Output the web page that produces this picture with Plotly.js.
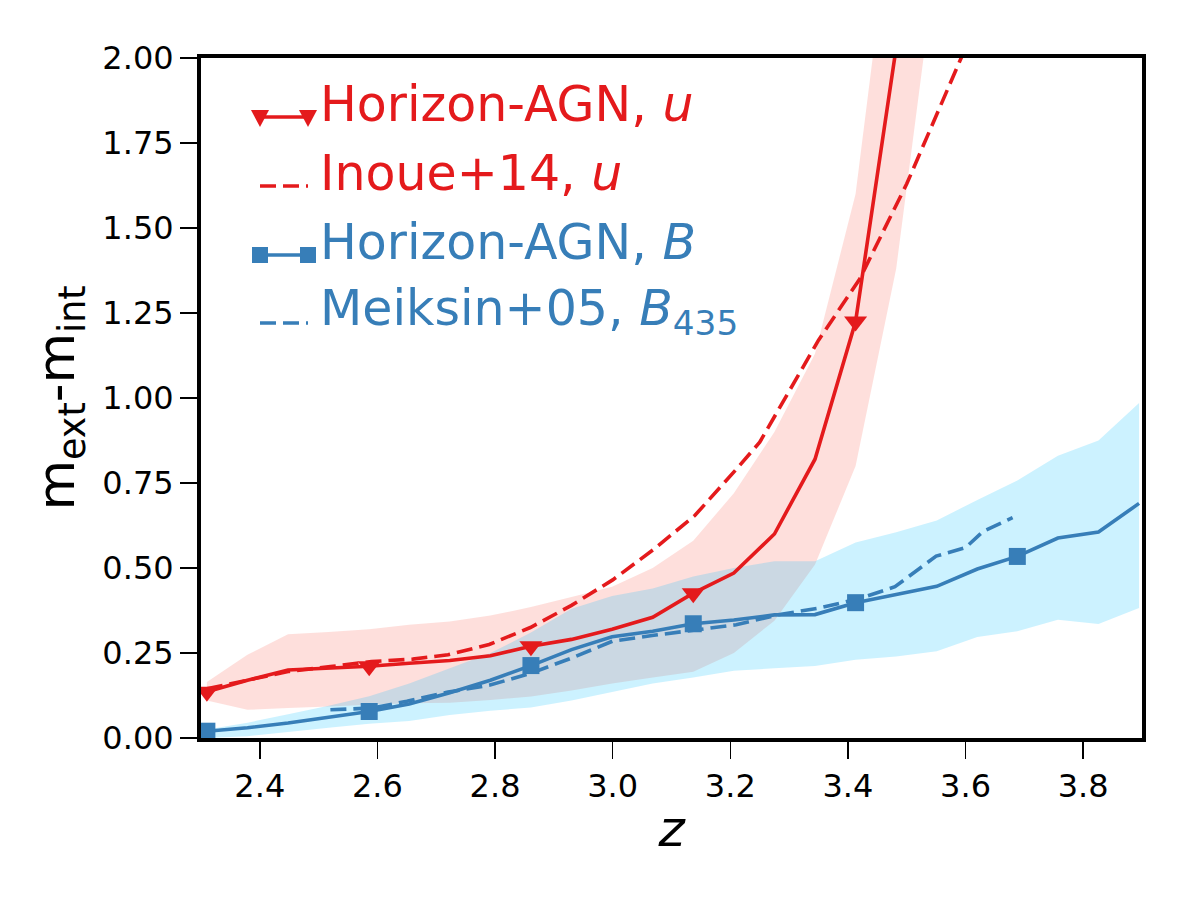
<!DOCTYPE html>
<html>
<head>
<meta charset="utf-8">
<script src="https://cdn.plot.ly/plotly-3.0.1.min.js"></script>
<style>
  html, body { margin: 0; padding: 0; background: #ffffff; }
  #chart { width: 1200px; height: 900px; }
</style>
</head>
<body>
<div id="chart"></div>
<script>
// Redshift grid of the Horizon-AGN measurements
const zGrid = [2.310, 2.379, 2.448, 2.517, 2.586, 2.654, 2.723, 2.792, 2.861, 2.930, 2.999, 3.068,
               3.137, 3.206, 3.275, 3.344, 3.413, 3.482, 3.551, 3.620, 3.688, 3.757, 3.826, 3.895];

// Horizon-AGN, u band: median and spread
const hagnU      = [0.136, 0.170, 0.200, 0.205, 0.211, 0.220, 0.228, 0.242, 0.270, 0.290, 0.320, 0.355,
                    0.426, 0.485, 0.600, 0.820, 1.225, 2.030];
const hagnUUpper = [0.165, 0.245, 0.305, 0.312, 0.320, 0.333, 0.343, 0.360, 0.385, 0.415, 0.445, 0.500,
                    0.580, 0.720, 0.900, 1.130, 1.600, 2.550, 4.000];
const hagnULower = [0.110, 0.083, 0.088, 0.093, 0.098, 0.102, 0.104, 0.112, 0.122, 0.140, 0.160, 0.178,
                    0.195, 0.250, 0.345, 0.510, 0.800, 1.380, 2.300];

// Horizon-AGN, B band: median and spread
const hagnB      = [0.020, 0.030, 0.044, 0.060, 0.078, 0.100, 0.133, 0.170, 0.213, 0.260, 0.298, 0.314,
                    0.336, 0.347, 0.362, 0.363, 0.398, 0.422, 0.446, 0.497, 0.534, 0.588, 0.606, 0.690];
const hagnBUpper = [0.025, 0.045, 0.070, 0.095, 0.123, 0.160, 0.205, 0.250, 0.310, 0.380, 0.418, 0.440,
                    0.475, 0.500, 0.520, 0.520, 0.575, 0.605, 0.640, 0.700, 0.757, 0.830, 0.875, 0.985];
const hagnBLower = [0.000, 0.005, 0.018, 0.030, 0.042, 0.050, 0.068, 0.080, 0.090, 0.110, 0.135, 0.160,
                    0.178, 0.198, 0.205, 0.212, 0.230, 0.240, 0.255, 0.297, 0.314, 0.348, 0.335, 0.382];

// Inoue+14 model, u band
const inoueZ = [2.31, 2.38, 2.45, 2.52, 2.59, 2.66, 2.72, 2.79, 2.86, 2.93, 3.00, 3.07, 3.14, 3.21,
                3.25, 3.35, 3.42, 3.50, 3.55, 3.60];
const inoueU = [0.145, 0.170, 0.196, 0.210, 0.225, 0.232, 0.245, 0.275, 0.325, 0.390, 0.465, 0.555,
                0.655, 0.790, 0.870, 1.170, 1.350, 1.630, 1.830, 2.030];

// Meiksin+05 model, B435 band
const meiksinZ = [2.52, 2.59, 2.65, 2.72, 2.79, 2.86, 2.93, 3.00, 3.07, 3.14, 3.21, 3.28, 3.35, 3.42,
                  3.48, 3.55, 3.60, 3.63, 3.68];
const meiksinB = [0.083, 0.088, 0.108, 0.135, 0.155, 0.190, 0.235, 0.285, 0.302, 0.318, 0.333, 0.362,
                  0.382, 0.410, 0.445, 0.535, 0.560, 0.608, 0.648];

// Tick values and labels
const xTicks = [2.4, 2.6, 2.8, 3.0, 3.2, 3.4, 3.6, 3.8];
const yTicks = [0.00, 0.25, 0.50, 0.75, 1.00, 1.25, 1.50, 1.75, 2.00];

// Legend entries
const legendLabels = ['Horizon-AGN, <i>u</i>', 'Inoue+14, <i>u</i>', 'Horizon-AGN, <i>B</i>',
                      'Meiksin+05, <i>B</i><sub>435</sub>'];

const RED = '#e41a1c';
const BLUE = '#377eb8';
const LW = 3.6;
const DASH = '16px,7px';
const MARK_EVERY = 4;

function band(x, upper, lower) {
  const n = Math.min(upper.length, lower.length);
  const xs = x.slice(0, n);
  return {
    x: xs.concat(xs.slice().reverse()),
    y: upper.slice(0, n).concat(lower.slice(0, n).reverse())
  };
}
function every(arr, n, step) {
  return arr.slice(0, n).filter((_, i) => i % step === 0);
}

const redBand = band(zGrid, hagnUUpper, hagnULower);
const blueBand = band(zGrid, hagnBUpper, hagnBLower);

const traces = [
  { x: redBand.x, y: redBand.y, mode: 'none', fill: 'toself',
    fillcolor: 'rgba(250,128,114,0.25)', hoverinfo: 'skip', showlegend: false },
  { x: blueBand.x, y: blueBand.y, mode: 'none', fill: 'toself',
    fillcolor: 'rgba(0,191,255,0.2)', hoverinfo: 'skip', showlegend: false },
  { x: inoueZ, y: inoueU, mode: 'lines',
    line: { color: RED, width: LW, dash: DASH }, showlegend: false },
  { x: meiksinZ, y: meiksinB, mode: 'lines',
    line: { color: BLUE, width: LW, dash: DASH }, showlegend: false },
  { x: zGrid.slice(0, hagnU.length), y: hagnU, mode: 'lines',
    line: { color: RED, width: LW }, showlegend: false },
  { x: every(zGrid, hagnU.length, MARK_EVERY), y: every(hagnU, hagnU.length, MARK_EVERY), mode: 'markers',
    marker: { color: RED, symbol: 'triangle-down', size: 20 }, showlegend: false },
  { x: zGrid.slice(0, hagnB.length), y: hagnB, mode: 'lines',
    line: { color: BLUE, width: LW }, showlegend: false },
  { x: every(zGrid, hagnB.length, MARK_EVERY), y: every(hagnB, hagnB.length, MARK_EVERY), mode: 'markers',
    marker: { color: BLUE, symbol: 'square', size: 17 }, showlegend: false }
];

// Plot-area geometry in pixels, used to place the legend block
const W = 1200, H = 900;
const M = { l: 201, r: 58, t: 58, b: 162 };
const PW = W - M.l - M.r, PH = H - M.t - M.b;
const px = (x) => (x - M.l) / PW;
const py = (y) => (H - M.b - y) / PH;

const legendRows = [
  { text: legendLabels[0], color: RED,  kind: 'tri',    textY: 105, keyY: 117 },
  { text: legendLabels[1], color: RED,  kind: 'dash',   textY: 174, keyY: 186 },
  { text: legendLabels[2], color: BLUE, kind: 'square', textY: 242, keyY: 255 },
  { text: legendLabels[3], color: BLUE, kind: 'dash',   textY: 311, keyY: 323 }
];
const keyX0 = 260, keyX1 = 308, textX = 318;

const annotations = [];
const shapes = [];
legendRows.forEach(row => {
  annotations.push({
    xref: 'paper', yref: 'paper', x: px(textX), y: py(row.textY),
    xanchor: 'left', yanchor: 'middle', showarrow: false, text: row.text,
    font: { family: 'DejaVu Sans', size: 49, color: row.color }
  });
  shapes.push({
    type: 'line', xref: 'paper', yref: 'paper',
    x0: px(keyX0), x1: px(keyX1), y0: py(row.keyY), y1: py(row.keyY),
    line: { color: row.color, width: LW, dash: row.kind === 'dash' ? DASH : 'solid' }
  });
  [keyX0, keyX1].forEach(kx => {
    if (row.kind === 'tri') {
      shapes.push({ type: 'path', xref: 'paper', yref: 'paper', xsizemode: 'pixel', ysizemode: 'pixel',
        xanchor: px(kx), yanchor: py(row.keyY), path: 'M-9,7 L9,7 L0,-10 Z',
        fillcolor: row.color, line: { width: 0 } });
    } else if (row.kind === 'square') {
      shapes.push({ type: 'rect', xref: 'paper', yref: 'paper', xsizemode: 'pixel', ysizemode: 'pixel',
        xanchor: px(kx), yanchor: py(row.keyY), x0: -8, x1: 8, y0: -8, y1: 8,
        fillcolor: row.color, line: { width: 0 } });
    }
  });
});

const axisCommon = {
  showgrid: false, zeroline: false, showline: true, mirror: true,
  linecolor: '#000000', linewidth: 4,
  ticks: 'outside', ticklen: 17, tickwidth: 1.6, tickcolor: '#000000',
  tickfont: { family: 'DejaVu Sans', size: 32, color: '#000000' },
  automargin: false
};

const layout = {
  width: W, height: H,
  margin: M,
  paper_bgcolor: '#ffffff', plot_bgcolor: '#ffffff',
  showlegend: false,
  xaxis: Object.assign({}, axisCommon, {
    range: [2.3, 3.9], tickvals: xTicks, ticktext: xTicks.map(v => v.toFixed(1)),
    title: { text: '<i>z</i>', font: { family: 'DejaVu Sans', size: 50, color: '#000000' }, standoff: 8 }
  }),
  yaxis: Object.assign({}, axisCommon, {
    range: [0, 2], tickvals: yTicks, ticktext: yTicks.map(v => v.toFixed(2)),
    title: { text: 'm<sub>ext</sub>-m<sub>int</sub>', font: { family: 'DejaVu Sans', size: 52, color: '#000000' }, standoff: 12 }
  }),
  annotations: annotations,
  shapes: shapes
};

Plotly.newPlot('chart', traces, layout, { displayModeBar: false, staticPlot: true });
</script>
</body>
</html>
